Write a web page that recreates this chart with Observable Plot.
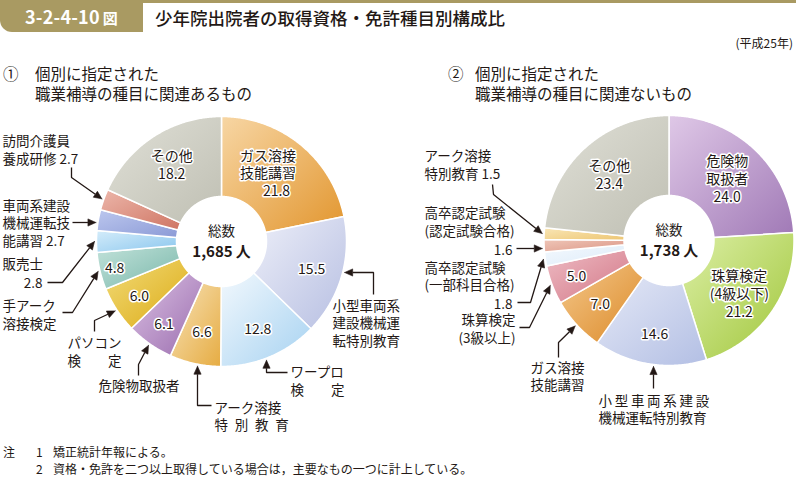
<!DOCTYPE html>
<html><head><meta charset="utf-8">
<script src="https://cdn.jsdelivr.net/npm/d3@7"></script>
<script src="https://cdn.jsdelivr.net/npm/@observablehq/plot@0.6"></script>
<style>
body{margin:0;background:#fff;font-family:"Noto Sans CJK JP","Noto Sans",sans-serif;color:#231815;}
#wrap{position:relative;width:796px;height:478px;overflow:hidden;}
#topline{position:absolute;left:0;top:0;width:796px;height:3px;background:#a99a62;}
#badge{position:absolute;left:0;top:0;width:143px;height:32px;background:#a99a62;border-bottom-left-radius:12px;color:#fff;font-weight:700;font-size:18px;line-height:32px;text-align:center;letter-spacing:0.2px;}
#badge span{font-size:15px;margin-left:3px;}
#title{position:absolute;left:155px;top:6px;font-size:17.5px;line-height:24px;font-weight:500;white-space:nowrap;}
#year{position:absolute;right:3px;top:35px;font-size:12px;line-height:16px;}
.sec{position:absolute;top:63px;font-size:15.5px;line-height:20px;white-space:nowrap;}
#chart{position:absolute;left:0;top:100px;}
.note{position:absolute;font-size:12px;line-height:16px;white-space:nowrap;}
</style></head><body>
<div id="wrap">
  <div id="topline"></div>
  <div id="badge">3-2-4-10<span>図</span></div>
  <div id="title">少年院出院者の取得資格・免許種目別構成比</div>
  <div id="year">(平成25年)</div>
  <div class="sec" style="left:3px">①</div>
  <div class="sec" style="left:35px">個別に指定された<br>職業補導の種目に関連あるもの</div>
  <div class="sec" style="left:448px">②</div>
  <div class="sec" style="left:475px">個別に指定された<br>職業補導の種目に関連ないもの</div>
  <div id="chart"></div>
  <div class="note" style="left:3px;top:444px">注</div>
  <div class="note" style="left:36px;top:444px">1</div>
  <div class="note" style="left:53px;top:444px">矯正統計年報による。</div>
  <div class="note" style="left:36px;top:461px">2</div>
  <div class="note" style="left:53px;top:461px">資格・免許を二つ以上取得している場合は，主要なもの一つに計上している。</div>
</div>
<script>
// ---------- data ----------
const cats1 = ["ガス溶接技能講習","小型車両系建設機械運転特別教育","ワープロ検定","アーク溶接特別教育","危険物取扱者","パソコン検定","手アーク溶接検定","販売士","車両系建設機械運転技能講習","訪問介護員養成研修","その他"];
const vals1 = [21.8, 15.5, 12.8, 6.6, 6.1, 6.0, 4.8, 2.8, 2.7, 2.7, 18.2];
const total1 = "1,685";

const cats2 = ["危険物取扱者","珠算検定（4級以下）","小型車両系建設機械運転特別教育","ガス溶接技能講習","珠算検定（3級以上）","高卒認定試験（一部科目合格）","高卒認定試験（認定試験合格）","アーク溶接特別教育","その他"];
const vals2 = [24.0, 21.2, 14.6, 7.0, 5.0, 1.8, 1.6, 1.5, 23.4];
const total2 = "1,738";

const centerLabel = "総数";
const unit = "人";

// ---------- styles (gradient light -> dark) ----------
const colors1 = [
  ["#f7d6a4","#e2962f"],["#eceef8","#b7bfe2"],["#f2f8fd","#a6d2f1"],["#f7e2b8","#e6ac42"],
  ["#dcc2e4","#9a6cae"],["#f2dc7a","#dcaa14"],["#c2e2da","#79b7aa"],["#d4ecfa","#8ac6ee"],
  ["#bcc7ee","#8b9ad6"],["#ecb6aa","#cf7563"],["#e0e0d7","#bfbfb3"]
];
const colors2 = [
  ["#dfc8e7","#a079b6"],["#dcefa6","#a0c63a"],["#e4e8f6","#b3bfe4"],["#f4c88c","#dc8a28"],
  ["#eebcc4","#d27686"],["#f4f9fe","#dcebf8"],["#efc6b8","#db9584"],["#f9e6b6","#edc673"],
  ["#e0e0d7","#bfbfb3"]
];

// ---------- layout ----------
const inner1 = {
  "ガス溶接技能講習": {name:"ガス溶接\n技能講習", pad:"\u3000 ", r:83, angle:34},
  "小型車両系建設機械運転特別教育": {r:94},
  "ワープロ検定": {r:94},
  "アーク溶接特別教育": {r:92},
  "危険物取扱者": {r:100},
  "パソコン検定": {r:98},
  "手アーク溶接検定": {r:110},
  "その他": {name:"その他", r:92}
};
const inner2 = {
  "危険物取扱者": {name:"危険物\n取扱者", r:85},
  "珠算検定（4級以下）": {name:"珠算検定\n(4級以下)", r:88, angle:127},
  "小型車両系建設機械運転特別教育": {r:94},
  "ガス溶接技能講習": {r:93},
  "珠算検定（3級以上）": {r:99},
  "その他": {name:"その他", r:89}
};
// text blocks: y is the vertical centre of the block
const notes1 = [
  {cat:"訪問介護員養成研修", lines:[{t:"訪問介護員\n養成研修 {v}",x:2,y:149}], leader:[[71,167],[71,177]]},
  {cat:"車両系建設機械運転技能講習", lines:[{t:"車両系建設\n機械運転技\n能講習 {v}",x:2,y:222}], leader:[[72,222]], tipY:222, side:-1},
  {cat:"販売士", lines:[{t:"販売士",x:2,y:263},{t:"{v}",x:42,y:282,end:true}], leader:[[47,282],[62,282]]},
  {cat:"手アーク溶接検定", lines:[{t:"手アーク\n溶接検定",x:2,y:314}], leader:[[62,312],[72,312]]},
  {cat:"パソコン検定", lines:[{t:"パソコン\n検\u3000\u3000定",x:67,y:351}], leader:[[94,331],[94,320]]},
  {cat:"危険物取扱者", lines:[{t:"危険物取扱者",x:98,y:385}], leader:[[138,375],[138,364]]},
  {cat:"アーク溶接特別教育", lines:[{t:"アーク溶接\n特\u2002別\u2002教\u2002育",x:214,y:415.5}], leader:[[211,405],[197,405]], tipX:197, side:1},
  {cat:"ワープロ検定", lines:[{t:"ワープロ\n検\u3000\u3000定",x:290,y:380}], leader:[[287,372],[266,372]], tipX:266, side:1},
  {cat:"小型車両系建設機械運転特別教育", lines:[{t:"小型車両系\n建設機械運\n転特別教育",x:332,y:322}], leader:[[373,294],[373,272]], tipY:272, side:1}
];
const notes2 = [
  {cat:"アーク溶接特別教育", lines:[{t:"アーク溶接\n特別教育 {v}",x:424,y:164}], leader:[[492,184],[493,194]]},
  {cat:"高卒認定試験（認定試験合格）", lines:[{t:"高卒認定試験\n(認定試験合格)",x:424,y:221},{t:"{v}",x:512,y:248.5,end:true}], leader:[[516,248]], tipY:248, side:-1},
  {cat:"高卒認定試験（一部科目合格）", lines:[{t:"高卒認定試験\n(一部科目合格)",x:424,y:275.5},{t:"{v}",x:512,y:303,end:true}], leader:[[517,302],[530,302]]},
  {cat:"珠算検定（3級以上）", lines:[{t:"珠算検定\n(3級以上)",x:515,y:328,end:true}], leader:[[519,327],[529,327]]},
  {cat:"ガス溶接技能講習", lines:[{t:"ガス溶接\n技能講習",x:530,y:375.5}], leader:[[558,357],[558,342]]},
  {cat:"小型車両系建設機械運転特別教育", lines:[{t:"小\u2009型\u2009車\u2009両\u2009系\u2009建\u2009設\n機械運転特別教育",x:598,y:408.5}], leader:[[653,388]], tipX:653, side:1}
];

const charts = [
  {id:1, cats:cats1, vals:vals1, total:total1, cx:221, cy:241, R:125, r:45, colors:colors1, inner:inner1, notes:notes1},
  {id:2, cats:cats2, vals:vals2, total:total2, cx:668.5, cy:240, R:125, r:45, colors:colors2, inner:inner2, notes:notes2}
];

// ---------- geometry ----------
const fmt = d3.format(".1f");
const polar = (c, deg, rad) => { const a = deg*Math.PI/180; return [c.cx + rad*Math.sin(a), c.cy - rad*Math.cos(a)]; };

const sliceRows = [], innerRows = [], textStart = [], textEnd = [], leaderRows = [], headRows = [], centerRows = [], totalRows = [];
const gradients = [];

charts.forEach(c => {
  const arcs = d3.pie().sort(null).value(d => d)(c.vals);
  arcs.forEach((a, i) => {
    const key = `${c.id}-${i}`;
    const d0 = a.startAngle*180/Math.PI, d1 = a.endAngle*180/Math.PI;
    a.mid = (d0 + d1)/2;
    gradients.push({id:`g${key}`, c0:c.colors[i][0], c1:c.colors[i][1]});
    const n = Math.max(2, Math.ceil((d1 - d0)/0.5));
    const pts = [];
    for (let k = 0; k <= n; k++) pts.push(polar(c, d0 + (d1-d0)*k/n, c.R));
    for (let k = n; k >= 0; k--) pts.push(polar(c, d0 + (d1-d0)*k/n, c.r));
    pts.push(pts[0]);
    pts.forEach(([x, y]) => sliceRows.push({key, x, y, fill:`url(#g${key})`}));
    const lab = c.inner[c.cats[i]];
    if (lab) {
      const [x, y] = polar(c, lab.angle ?? a.mid, lab.r);
      innerRows.push({x, y, text:(lab.name ? lab.name + "\n" : "") + (lab.pad || "") + fmt(c.vals[i])});
    }
  });
  centerRows.push({x:c.cx, y:c.cy - 10, text:centerLabel});
  totalRows.push({x:c.cx, y:c.cy + 11, text:c.total + "\u2009" + unit});

  c.notes.forEach((nt, j) => {
    const i = c.cats.indexOf(nt.cat);
    const v = fmt(c.vals[i]);
    nt.lines.forEach(l => (l.end ? textEnd : textStart).push({x:l.x, y:l.y, text:l.t.replace("{v}", v)}));
    const rt = c.R + 2;
    let T;
    if (nt.tipY !== undefined) { const dy = nt.tipY - c.cy; T = [c.cx + nt.side*Math.sqrt(rt*rt - dy*dy), nt.tipY]; }
    else if (nt.tipX !== undefined) { const dx = nt.tipX - c.cx; T = [nt.tipX, c.cy + nt.side*Math.sqrt(rt*rt - dx*dx)]; }
    else T = polar(c, arcs[i].mid, rt);
    const P = nt.leader[nt.leader.length - 1];
    const len = Math.hypot(T[0]-P[0], T[1]-P[1]);
    const u = [(T[0]-P[0])/len, (T[1]-P[1])/len];
    const hl = 8, hw = 3.6;
    const B = [T[0] - hl*u[0], T[1] - hl*u[1]];
    const nv = [-u[1], u[0]];
    const key = `n${c.id}-${j}`;
    [...nt.leader, B].forEach(([x, y]) => leaderRows.push({key, x, y}));
    [T, [B[0]+hw*nv[0], B[1]+hw*nv[1]], [B[0]-hw*nv[0], B[1]-hw*nv[1]], T].forEach(([x, y]) => headRows.push({key, x, y}));
  });
});

const defsMark = () => {
  const defs = d3.create("svg:defs");
  gradients.forEach(g => {
    const lg = defs.append("linearGradient").attr("id", g.id).attr("x1", 0).attr("y1", 0).attr("x2", 1).attr("y2", 1);
    lg.append("stop").attr("offset", "0%").attr("stop-color", g.c0);
    lg.append("stop").attr("offset", "100%").attr("stop-color", g.c1);
  });
  return defs.node();
};

const FONT = '"Noto Sans CJK JP", sans-serif';
const INK = "#231815";

const plot = Plot.plot({
  width: 796, height: 340,
  marginTop: 0, marginRight: 0, marginBottom: 0, marginLeft: 0,
  x: {domain: [0, 796], range: [0, 796], axis: null},
  y: {domain: [100, 440], range: [0, 340], axis: null},
  color: {type: "identity"},
  style: {background: "transparent", fontFamily: FONT, overflow: "visible"},
  marks: [
    defsMark,
    Plot.line(sliceRows, {x: "x", y: "y", z: "key", fill: "fill", stroke: "white", strokeWidth: 1.5, strokeLinejoin: "round", curve: "linear"}),
    Plot.text(innerRows, {x: "x", y: "y", text: "text", fontSize: 14, lineHeight: 1.28, fill: INK, stroke: "white", strokeWidth: 3, fontFamily: FONT}),
    Plot.text(centerRows, {x: "x", y: "y", text: "text", fontSize: 13.5, fill: INK, fontFamily: FONT}),
    Plot.text(totalRows, {x: "x", y: "y", text: "text", fontSize: 15, fontWeight: 700, fill: INK, fontFamily: FONT}),
    Plot.line(leaderRows, {x: "x", y: "y", z: "key", stroke: INK, strokeWidth: 1.3, strokeLinecap: "butt", strokeLinejoin: "miter", curve: "linear"}),
    Plot.line(headRows, {x: "x", y: "y", z: "key", fill: INK, stroke: INK, strokeWidth: 0.6, curve: "linear"}),
    Plot.text(textStart, {x: "x", y: "y", text: "text", textAnchor: "start", fontSize: 13.5, lineHeight: 1.3, fill: INK, fontFamily: FONT}),
    Plot.text(textEnd, {x: "x", y: "y", text: "text", textAnchor: "end", fontSize: 13.5, lineHeight: 1.3, fill: INK, fontFamily: FONT})
  ]
});
document.getElementById("chart").appendChild(plot);
</script>
</body></html>
